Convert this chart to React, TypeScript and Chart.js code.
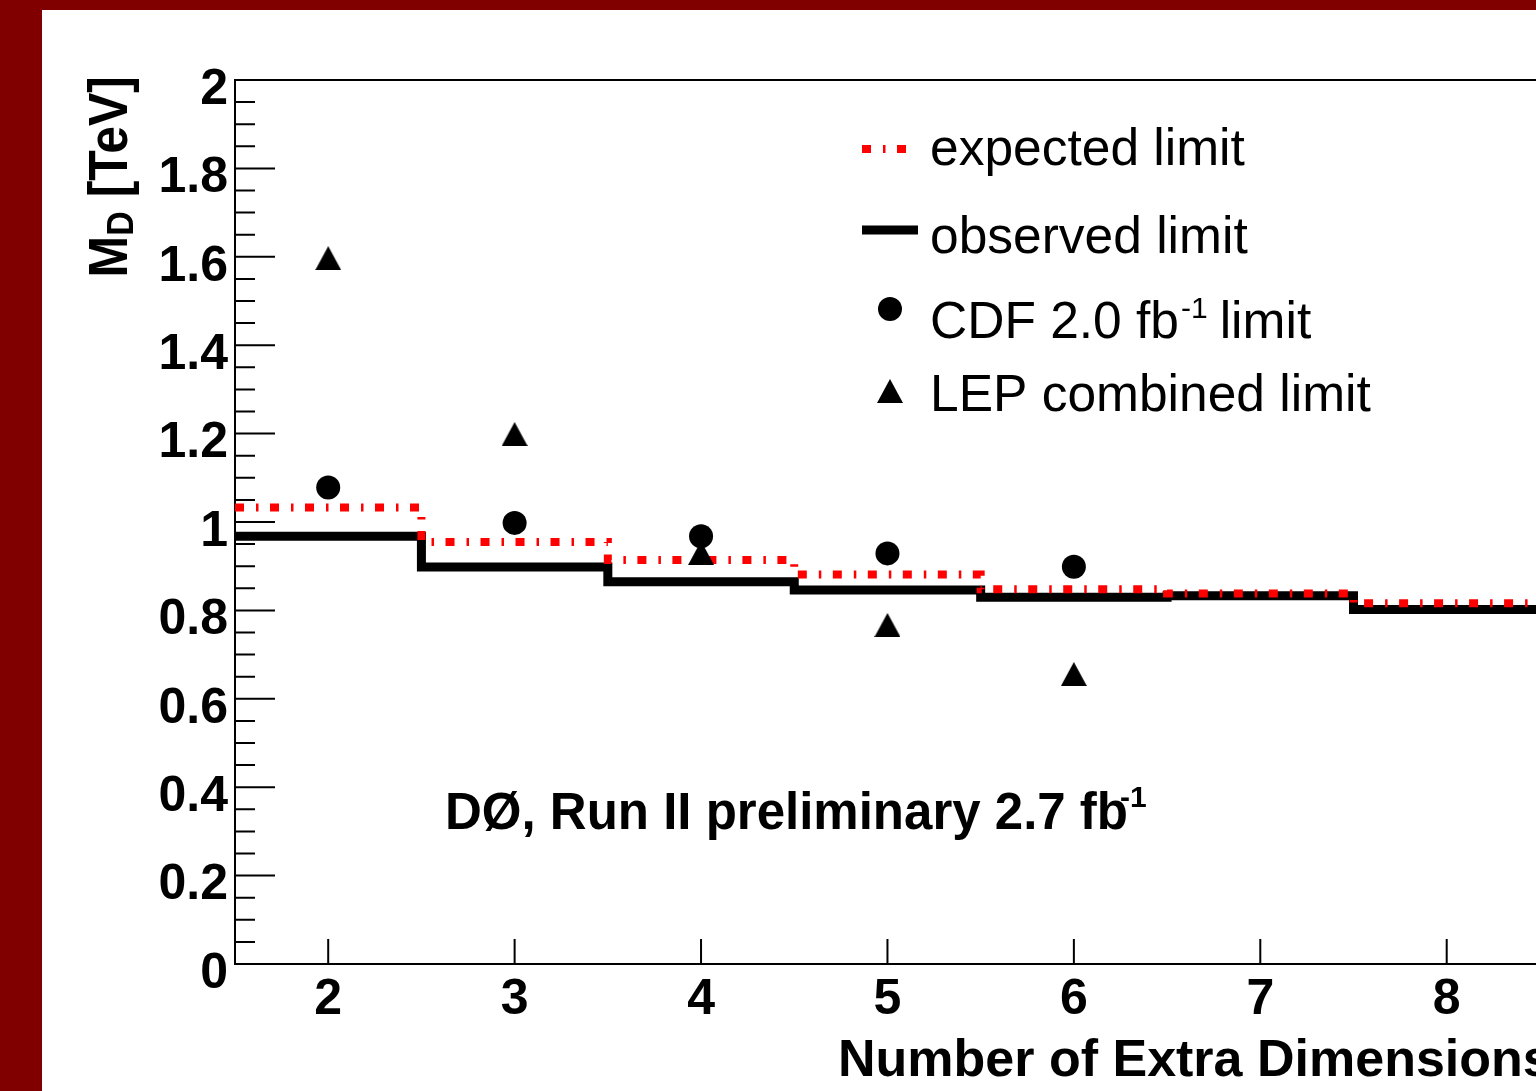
import React, { useEffect, useRef } from 'react';
import { Chart, registerables } from 'chart.js';

Chart.register(...registerables);

// ---- data ----
const dimensions = [2, 3, 4, 5, 6, 7, 8];
const expectedLimit = [1.033, 0.955, 0.914, 0.881, 0.848, 0.838, 0.816];
const observedLimit = [0.968, 0.898, 0.865, 0.846, 0.83, 0.833, 0.802];
const cdfDimensions = [2, 3, 4, 5, 6];
const cdfLimit = [1.078, 0.998, 0.968, 0.929, 0.899];
const lepDimensions = [2, 3, 4, 5, 6];
const lepLimit = [1.597, 1.199, 0.93, 0.767, 0.656];
const xTickValues = [2, 3, 4, 5, 6, 7, 8];
const yTickValues = [0, 0.2, 0.4, 0.6, 0.8, 1, 1.2, 1.4, 1.6, 1.8, 2];
const legendLabels = ['expected limit', 'observed limit', 'CDF 2.0 fb', 'LEP combined limit'];
const xTitle = 'Number of Extra Dimensions';
const annotation = 'DØ, Run II preliminary 2.7 fb';

// ---- styles / layout ----
const OX = 42;
const OY = 10;
const CW = 1536 - OX;
const CH = 1091 - OY;
const FONT = '"Liberation Sans", Arial, Helvetica, sans-serif';
const RED_DASH = [9, 12, 2.5, 11.5];

function histPoints(xs: number[], ys: number[]) {
  const pts: { x: number; y: number }[] = [];
  xs.forEach((x, i) => {
    pts.push({ x: x - 0.5, y: ys[i] });
    pts.push({ x: x + 0.5, y: ys[i] });
  });
  return pts;
}

function makeTriangle(w: number, h: number) {
  const c = document.createElement('canvas');
  c.width = w;
  c.height = h;
  const g = c.getContext('2d')!;
  g.fillStyle = '#000';
  g.beginPath();
  g.moveTo(w / 2, 0);
  g.lineTo(w, h);
  g.lineTo(0, h);
  g.closePath();
  g.fill();
  return c;
}

export default function App() {
  const ref = useRef<HTMLCanvasElement | null>(null);

  useEffect(() => {
    document.body.style.margin = '0';
    const canvas = ref.current!;
    const tri = makeTriangle(26, 24);

    const yMinor: number[] = [];
    for (let i = 0; i < yTickValues.length - 1; i++) {
      const a = yTickValues[i];
      const b = yTickValues[i + 1];
      for (let k = 1; k < 4; k++) yMinor.push(a + ((b - a) * k) / 4);
    }

    const decor = {
      id: 'decor',
      beforeDatasetsDraw(chart: any) {
        const { ctx, chartArea, scales } = chart;
        const x = scales.x;
        const y = scales.y;
        ctx.save();
        ctx.strokeStyle = '#000';
        ctx.lineWidth = 2;
        ctx.beginPath();
        ctx.moveTo(chartArea.right + 5, chartArea.top);
        ctx.lineTo(chartArea.left, chartArea.top);
        ctx.lineTo(chartArea.left, chartArea.bottom);
        ctx.lineTo(chartArea.right + 5, chartArea.bottom);
        ctx.stroke();
        ctx.beginPath();
        yTickValues.forEach((v) => {
          const py = y.getPixelForValue(v);
          ctx.moveTo(chartArea.left, py);
          ctx.lineTo(chartArea.left + 40, py);
        });
        yMinor.forEach((v) => {
          const py = y.getPixelForValue(v);
          ctx.moveTo(chartArea.left, py);
          ctx.lineTo(chartArea.left + 20, py);
        });
        xTickValues.forEach((v) => {
          const px = x.getPixelForValue(v);
          ctx.moveTo(px, chartArea.bottom);
          ctx.lineTo(px, chartArea.bottom - 25);
        });
        ctx.stroke();
        ctx.restore();
      },
      afterDraw(chart: any) {
        const ctx = chart.ctx as CanvasRenderingContext2D;
        ctx.save();
        ctx.fillStyle = '#000';
        ctx.textBaseline = 'alphabetic';
        ctx.textAlign = 'left';

        // legend
        const lx0 = 862 - OX;
        const lx1 = 918 - OX;
        ctx.strokeStyle = '#ff0000';
        ctx.lineWidth = 8;
        ctx.setLineDash(RED_DASH);
        ctx.beginPath();
        ctx.moveTo(lx0, 149 - OY);
        ctx.lineTo(lx1, 149 - OY);
        ctx.stroke();
        ctx.setLineDash([]);
        ctx.strokeStyle = '#000';
        ctx.lineWidth = 9;
        ctx.beginPath();
        ctx.moveTo(lx0, 230 - OY);
        ctx.lineTo(lx1, 230 - OY);
        ctx.stroke();
        ctx.beginPath();
        ctx.arc(890 - OX, 309 - OY, 12, 0, Math.PI * 2);
        ctx.fill();
        ctx.drawImage(tri, 890 - OX - 13, 391 - OY - 12);

        const lf = `51.5px ${FONT}`;
        ctx.font = lf;
        const tx = 930 - OX;
        ctx.fillText(legendLabels[0], tx, 165 - OY);
        ctx.fillText(legendLabels[1], tx, 253 - OY);
        ctx.fillText(legendLabels[2], tx, 338 - OY);
        let w = ctx.measureText(legendLabels[2]).width;
        ctx.font = `30px ${FONT}`;
        ctx.fillText('-1', tx + w + 2, 318 - OY);
        const w2 = ctx.measureText('-1').width;
        ctx.font = lf;
        ctx.fillText('limit', tx + w + 2 + w2 + 12, 338 - OY);
        ctx.fillText(legendLabels[3], tx, 411 - OY);

        // annotation
        ctx.font = `bold 51px ${FONT}`;
        ctx.fillText(annotation, 445 - OX, 829 - OY);
        w = ctx.measureText(annotation).width;
        ctx.font = `bold 30px ${FONT}`;
        ctx.fillText('-1', 445 - OX + w - 8, 807 - OY);

        // x title
        ctx.font = `bold 52px ${FONT}`;
        ctx.fillText(xTitle, 838 - OX, 1076 - OY);

        // y title (rotated)
        ctx.save();
        ctx.translate(127 - OX, 76 - OY);
        ctx.rotate(-Math.PI / 2);
        ctx.scale(1, 1.1);
        ctx.font = `bold 50px ${FONT}`;
        const wM = ctx.measureText('M').width;
        const wRest = ctx.measureText(' [TeV]').width;
        ctx.font = `bold 34px ${FONT}`;
        const wD = ctx.measureText('D').width;
        const total = wM + wD + wRest;
        let cx = -total;
        ctx.font = `bold 50px ${FONT}`;
        ctx.fillText('M', cx, 0);
        cx += wM;
        ctx.font = `bold 34px ${FONT}`;
        ctx.fillText('D', cx, 5);
        cx += wD;
        ctx.font = `bold 50px ${FONT}`;
        ctx.fillText(' [TeV]', cx, 0);
        ctx.restore();

        ctx.restore();
      },
    };

    const tickFont = { family: FONT, size: 50, weight: 'bold' as const };

    const chart = new Chart(canvas, {
      type: 'line',
      data: {
        datasets: [
          {
            label: 'CDF',
            data: cdfDimensions.map((d, i) => ({ x: d, y: cdfLimit[i] })),
            showLine: false,
            pointStyle: 'circle',
            pointRadius: 12,
            pointBackgroundColor: '#000',
            pointBorderWidth: 0,
          },
          {
            label: 'LEP',
            data: lepDimensions.map((d, i) => ({ x: d, y: lepLimit[i] })),
            showLine: false,
            pointStyle: tri as any,
            pointRadius: 12,
            pointBackgroundColor: '#000',
            pointBorderWidth: 0,
          },
          {
            label: 'expected',
            data: histPoints(dimensions, expectedLimit),
            borderColor: '#ff0000',
            borderWidth: 8,
            borderDash: RED_DASH,
            borderCapStyle: 'butt',
            borderJoinStyle: 'miter',
            pointRadius: 0,
            tension: 0,
            fill: false,
          },
          {
            label: 'observed',
            data: histPoints(dimensions, observedLimit),
            borderColor: '#000',
            borderWidth: 9,
            borderCapStyle: 'butt',
            borderJoinStyle: 'miter',
            pointRadius: 0,
            tension: 0,
            fill: false,
          },
        ],
      },
      options: {
        responsive: false,
        animation: false,
        devicePixelRatio: 1,
        layout: { autoPadding: false, padding: { top: 70, left: 0, right: 0, bottom: 0 } },
        plugins: { legend: { display: false }, tooltip: { enabled: false } },
        scales: {
          x: {
            type: 'linear',
            min: 1.5,
            max: 8.479,
            afterBuildTicks: (s: any) => {
              s.ticks = xTickValues.map((v) => ({ value: v }));
            },
            afterFit: (s: any) => {
              s.height = 127;
              s.paddingLeft = 0;
              s.paddingRight = 0;
            },
            grid: { display: false, drawTicks: false },
            border: { display: false },
            ticks: {
              font: tickFont,
              color: '#000',
              padding: 6,
              maxRotation: 0,
              autoSkip: false,
              callback: (v: any) => String(v),
            },
          },
          y: {
            type: 'linear',
            min: 0,
            max: 2,
            afterBuildTicks: (s: any) => {
              s.ticks = yTickValues.map((v) => ({ value: v }));
            },
            afterFit: (s: any) => {
              s.width = 193;
              s.paddingTop = 0;
              s.paddingBottom = 0;
            },
            grid: { display: false, drawTicks: false },
            border: { display: false },
            ticks: {
              font: tickFont,
              color: '#000',
              padding: 7,
              labelOffset: 10,
              autoSkip: false,
              callback: (v: any) => String(Number(Number(v).toFixed(1))),
            },
          },
        },
      },
      plugins: [decor],
    } as any);

    return () => chart.destroy();
  }, []);

  return (
    <div
      style={{
        position: 'fixed',
        left: 0,
        top: 0,
        width: 1536,
        height: 1091,
        background: '#800000',
        overflow: 'hidden',
      }}
    >
      <div
        style={{
          position: 'absolute',
          left: OX,
          top: OY,
          width: CW,
          height: CH,
          background: '#ffffff',
        }}
      >
        <canvas ref={ref} width={CW} height={CH} style={{ width: CW, height: CH, display: 'block' }} />
      </div>
    </div>
  );
}
